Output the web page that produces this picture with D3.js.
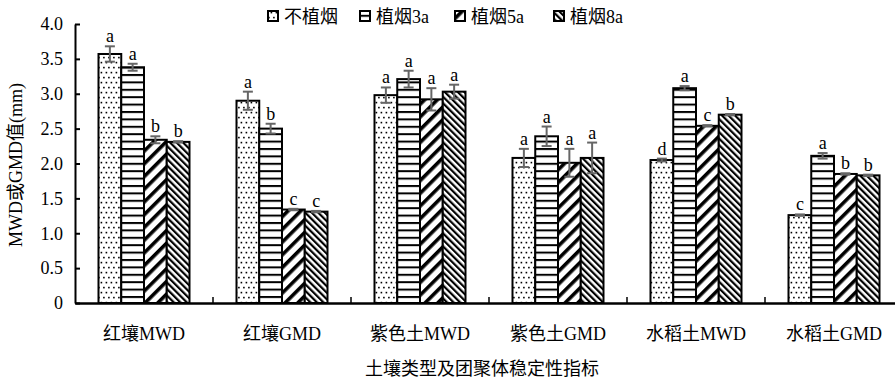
<!DOCTYPE html>
<html><head><meta charset="utf-8">
<script src="https://cdn.jsdelivr.net/npm/d3@7"></script>
<style>body{margin:0;background:#fff}svg{display:block}</style>
</head><body><svg id="c" width="895" height="383"></svg>
<script>
const categories = ["红壤MWD","红壤GMD","紫色土MWD","紫色土GMD","水稻土MWD","水稻土GMD"];
const seriesNames = ["不植烟","植烟3a","植烟5a","植烟8a"];
const v0 = [3.57, 2.90, 2.98, 2.08, 2.05, 1.26];
const v1 = [3.38, 2.50, 3.21, 2.39, 3.08, 2.11];
const v2 = [2.34, 1.34, 2.92, 2.01, 2.54, 1.85];
const v3 = [2.31, 1.31, 3.03, 2.08, 2.70, 1.83];
const e0 = [0.11, 0.13, 0.11, 0.13, 0.02, 0.01];
const e1 = [0.05, 0.07, 0.12, 0.14, 0.03, 0.04];
const e2 = [0.05, 0.01, 0.16, 0.20, 0.01, 0.01];
const e3 = [0.01, 0.01, 0.10, 0.22, 0.01, 0.01];
const l0 = ["a","a","a","a","d","c"];
const l1 = ["a","b","a","a","a","a"];
const l2 = ["b","c","a","a","c","b"];
const l3 = ["b","c","a","a","b","b"];
const yTicks = [0,0.5,1,1.5,2,2.5,3,3.5,4];
const yTickLabels = ["0","0.5","1.0","1.5","2.0","2.5","3.0","3.5","4.0"];
const yTitle = "MWD或GMD值(mm)";
const xTitle = "土壤类型及团聚体稳定性指标";

const vals=[v0,v1,v2,v3], errs=[e0,e1,e2,e3], lets=[l0,l1,l2,l3];
const FONT = "'Liberation Serif','Times New Roman','Noto Sans CJK SC',serif";
const svg = d3.select("#c");
const defs = svg.append("defs");
// patterns
const p0 = defs.append("pattern").attr("id","p0").attr("patternUnits","userSpaceOnUse").attr("width",5).attr("height",10);
p0.append("rect").attr("width",5).attr("height",10).attr("fill","#fff");
p0.append("rect").attr("x",0.6).attr("y",1.8).attr("width",1.6).attr("height",1.6).attr("fill","#000");
p0.append("rect").attr("x",3.1).attr("y",6.8).attr("width",1.6).attr("height",1.6).attr("fill","#000");
const p1 = defs.append("pattern").attr("id","p1").attr("patternUnits","userSpaceOnUse").attr("width",10).attr("height",7.4);
p1.append("rect").attr("width",10).attr("height",7.4).attr("fill","#fff");
p1.append("rect").attr("y",0).attr("width",10).attr("height",2).attr("fill","#000");
const p2 = defs.append("pattern").attr("id","p2").attr("patternUnits","userSpaceOnUse").attr("width",9).attr("height",9).attr("patternTransform","rotate(45)");
p2.append("rect").attr("width",9).attr("height",9).attr("fill","#fff");
p2.append("rect").attr("x",0).attr("width",3.6).attr("height",9).attr("fill","#000");
const p3 = defs.append("pattern").attr("id","p3").attr("patternUnits","userSpaceOnUse").attr("width",4.6).attr("height",4.6).attr("patternTransform","rotate(-45)");
p3.append("rect").attr("width",4.6).attr("height",4.6).attr("fill","#fff");
p3.append("rect").attr("x",0).attr("width",2.2).attr("height",4.6).attr("fill","#000");

const x0 = d3.scaleBand().domain(categories).range([75, 903]).padding(0);
const x1 = d3.scaleBand().domain(d3.range(4)).range([23.5, 114.5]).padding(0);
const y = d3.scaleLinear().domain([0,4]).range([303,24]);

// bars
categories.forEach((c,ci)=>{
  for(let s=0;s<4;s++){
    const bx = x0(c)+x1(s), bw = x1.bandwidth();
    svg.append("rect").attr("x",bx).attr("y",y(vals[s][ci])).attr("width",bw).attr("height",y(0)-y(vals[s][ci]))
      .attr("fill",`url(#p${s})`).attr("stroke","#000").attr("stroke-width",2);
  }
});
// error bars & letters
categories.forEach((c,ci)=>{
  for(let s=0;s<4;s++){
    const cx = x0(c)+x1(s)+x1.bandwidth()/2;
    const v=vals[s][ci], e=errs[s][ci];
    const g = svg.append("g").attr("stroke","#666").attr("stroke-width",2);
    g.append("line").attr("x1",cx).attr("x2",cx).attr("y1",y(v+e)).attr("y2",y(v-e));
    g.append("line").attr("x1",cx-5).attr("x2",cx+5).attr("y1",y(v+e)).attr("y2",y(v+e));
    g.append("line").attr("x1",cx-5).attr("x2",cx+5).attr("y1",y(v-e)).attr("y2",y(v-e));
    svg.append("text").attr("x",cx).attr("y",y(v+e)-4).attr("text-anchor","middle")
      .attr("font-family",FONT).attr("font-size",18).text(lets[s][ci]);
  }
});
// y axis
const ya = svg.append("g").attr("transform","translate(75,0)")
  .call(d3.axisLeft(y).tickValues(yTicks).tickSizeInner(-5).tickSizeOuter(0).tickPadding(12).tickFormat((d,i)=>yTickLabels[i]));
ya.select(".domain").attr("stroke","#000").attr("stroke-width",2);
ya.selectAll(".tick line").attr("stroke","#000").attr("stroke-width",2);
ya.selectAll("text").attr("font-family",FONT).attr("font-size",18).attr("fill","#000");
// x axis
const xa = svg.append("g").attr("transform","translate(0,303)")
  .call(d3.axisBottom(x0).tickSize(0).tickPadding(24));
xa.select(".domain").attr("stroke","#000").attr("stroke-width",2.5);
xa.selectAll("text").attr("font-family",FONT).attr("font-size",18).attr("fill","#000");
// boundary ticks
categories.forEach(c=>{
  svg.append("line").attr("x1",x0(c)+x0.bandwidth()).attr("x2",x0(c)+x0.bandwidth()).attr("y1",303).attr("y2",297).attr("stroke","#000").attr("stroke-width",1.5);
});
// titles
svg.append("text").attr("transform","translate(22,165) rotate(-90)").attr("text-anchor","middle")
  .attr("font-family",FONT).attr("font-size",18).text(yTitle);
svg.append("text").attr("x",482).attr("y",375).attr("text-anchor","middle")
  .attr("font-family",FONT).attr("font-size",18).text(xTitle);
// legend
const legX = [268, 360, 455, 554];
seriesNames.forEach((n,i)=>{
  svg.append("rect").attr("x",legX[i]).attr("y",11).attr("width",10).attr("height",10)
    .attr("fill",`url(#p${i})`).attr("stroke","#000").attr("stroke-width",2);
  svg.append("text").attr("x",legX[i]+16).attr("y",23).attr("font-family",FONT).attr("font-size",18).text(n);
});
</script></body></html>
